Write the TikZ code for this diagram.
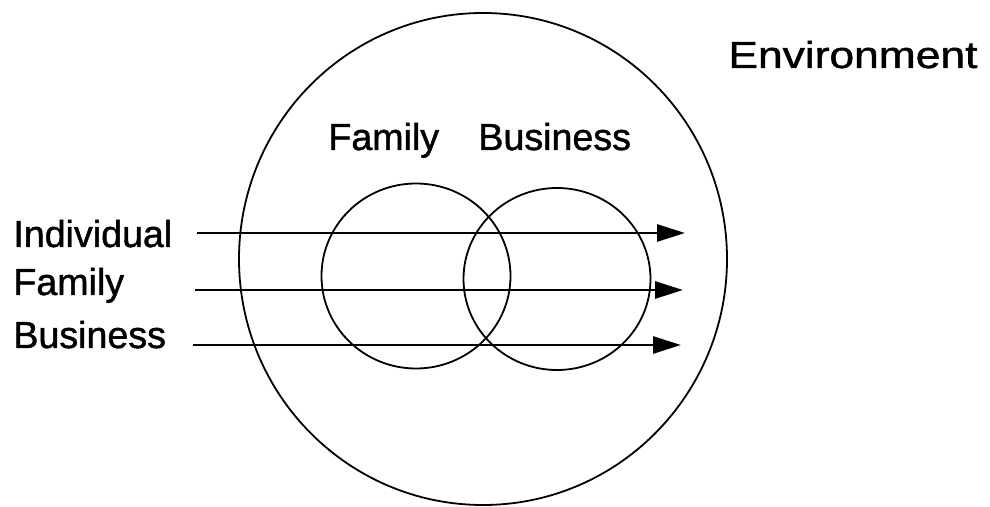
\documentclass[tikz,border=0pt]{standalone}
\usepackage{fontspec}
\setmainfont{Liberation Sans}
\newfontfamily\scanfont[FakeBold=1.2]{Liberation Sans}
\usetikzlibrary{arrows.meta, positioning, shapes.geometric}

\begin{document}
\begin{tikzpicture}[
    x=0.5pt, y=-0.5pt,
    ring/.style={draw, ellipse, line width=0.9pt, inner sep=0pt},
    lbl/.style={anchor=base west, inner sep=0pt, font=\scanfont\fontsize{18.8}{22}\selectfont},
    arr/.style={line width=1.4pt, -{Triangle[length=14pt, width=8.5pt]}},
]
\useasboundingbox (0,0) rectangle (990,507);

% environment and the two systems
\node[ring, minimum width=244pt, minimum height=246pt] (env) at (483,259) {};
\node[ring, minimum width=94.5pt, minimum height=92.5pt] (fam) at (416,276) {};
\node[ring, minimum width=93.5pt, minimum height=91pt] (bus) at (557,279) {};

% labels
\node[lbl] (envlbl) at (728,68) {\scalebox{1.18}[1]{Environment}};
\node[lbl] (famlbl) at (328,150) {Family};
\node[lbl] (buslbl) at (478,150) {Business};
\node[lbl] (ind) at (13,247) {Individual};
\node[lbl] (famrow) at (13,295) {Family};
\node[lbl] (busrow) at (13,348) {Business};

% arrow ends
\coordinate (ind0) at (197,233);  \coordinate (ind1) at (685,233);
\coordinate (fam0) at (195,290);  \coordinate (fam1) at (683,290);
\coordinate (bus0) at (193,345);  \coordinate (bus1) at (681,345);

\foreach \a/\b in {ind0/ind1,fam0/fam1,bus0/bus1}{
  \draw[arr] (\a) -- (\b);
}

\end{tikzpicture}
\end{document}
